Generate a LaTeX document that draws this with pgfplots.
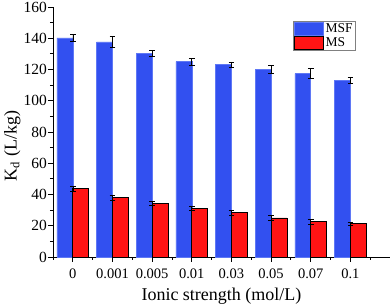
\documentclass[border=0pt]{standalone}
\usepackage{fontspec}
\setmainfont{Liberation Serif}
\usepackage{pgfplots}
\usepackage{pgfplotstable}
\pgfplotsset{compat=1.18}
\definecolor{msfblue}{RGB}{50,80,240}
\definecolor{msfedge}{RGB}{95,120,245}
\definecolor{msred}{RGB}{255,20,20}
\pgfplotstableread{
x msf msfe ms mse
0 140.2 2.4 43.8 1.5
1 137.6 3.5 37.9 1.5
2 130.3 1.7 34.1 1.3
3 125.1 2.2 31.0 1.2
4 123.3 1.6 28.3 1.4
5 120.2 2.4 25.0 1.4
6 117.4 3.2 22.6 1.4
7 113.1 1.9 21.2 1.0
}\datatable
\begin{document}
\begin{tikzpicture}
\begin{axis}[
  scale only axis,
  width=337pt, height=250pt,
  xmin=-0.5, xmax=8, ymin=0, ymax=160,
  axis x line*=bottom, axis y line*=left,
  axis line style={black, line width=0.8pt},
  tick style={black, line width=0.8pt},
  tick align=outside,
  major tick length=5pt, minor tick length=3pt,
  xtick={0,1,2,3,4,5,6,7},
  xticklabels={0,0.001,0.005,0.01,0.03,0.05,0.07,0.1},
  minor xtick={-0.5,0.5,1.5,2.5,3.5,4.5,5.5,6.5,7.5},
  ytick={0,20,...,160},
  minor y tick num=1,
  /pgf/number format/assume math mode=true,
  xticklabel style={font=\fontsize{14.5}{17}\selectfont, inner sep=1pt, yshift=-6pt},
  yticklabel style={font=\fontsize{15.5}{18}\selectfont, inner sep=1pt},
  xlabel={Ionic strength (mol/L)},
  ylabel={K\textsubscript{d} (L/kg)},
  label style={font=\fontsize{18}{21}\selectfont},
  xlabel style={at={(axis description cs:0.5,-0.157)}, anchor=center, inner sep=0pt},
  ylabel style={at={(axis description cs:-0.121,0.444)}, anchor=center, inner sep=0pt},
  legend style={at={(axis description cs:0.712,0.944)}, anchor=north west,
    draw=gray, line width=0.6pt, font=\fontsize{13.5}{15}\selectfont,
    inner sep=1pt, row sep=0pt,
    nodes={inner sep=1.5pt}},
  legend cell align=left,
  legend image code/.code={\draw[#1] (0pt,-6.5pt) rectangle (29pt,6.5pt);},
  clip=false,
]
\addplot[ybar, bar width=0.4, bar shift=-0.2, fill=msfblue, draw=msfedge, line width=0.5pt,
  error bars/.cd, y dir=both, y explicit,
  error bar style={black, line width=0.6pt},
  error mark options={rotate=90, mark size=2.8pt, black, line width=0.6pt}]
  table[x=x, y=msf, y error=msfe] {\datatable};
\addlegendentry{MSF}
\addplot[ybar, bar width=0.4, bar shift=0.2, fill=msred, draw=black, line width=0.8pt,
  error bars/.cd, y dir=both, y explicit,
  error bar style={black, line width=0.6pt},
  error mark options={rotate=90, mark size=2.8pt, black, line width=0.6pt}]
  table[x=x, y=ms, y error=mse] {\datatable};
\addlegendentry{MS}
\end{axis}
\pgfresetboundingbox
\path[use as bounding box] (current axis.south west) ++(-53pt,-50pt) rectangle ++(392pt,307pt);
\end{tikzpicture}
\end{document}
